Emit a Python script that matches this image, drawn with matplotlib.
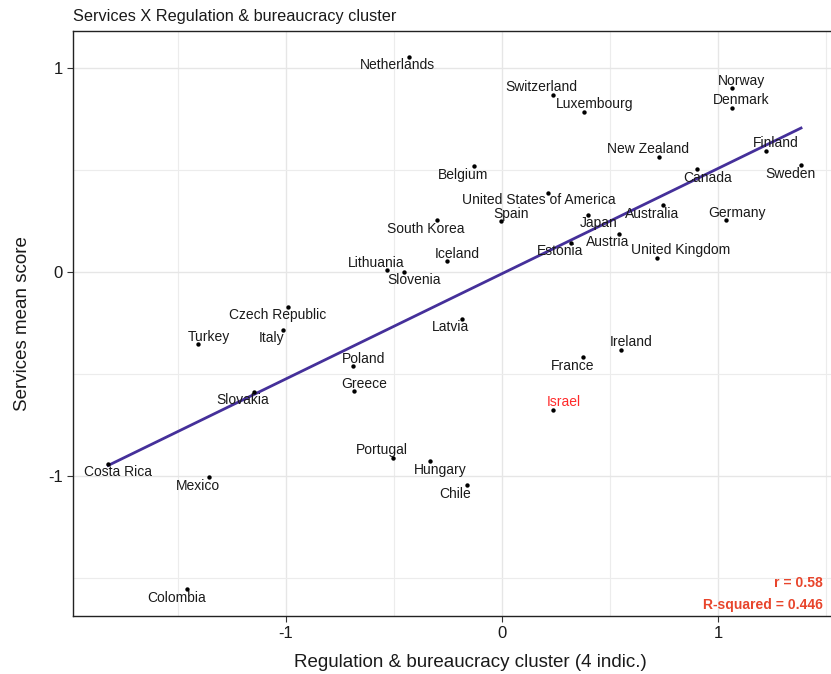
import numpy as np
import matplotlib.pyplot as plt

plt.rcParams['font.family'] = ['Liberation Sans', 'DejaVu Sans']
plt.rcParams['axes.unicode_minus'] = False

# country scores
countries = ['Netherlands', 'Switzerland', 'Luxembourg', 'Norway', 'Denmark',
             'New Zealand', 'Canada', 'Finland', 'Sweden', 'Australia',
             'Germany', 'Japan', 'Austria', 'Estonia', 'United Kingdom',
             'United States of America', 'Spain', 'Belgium', 'South Korea',
             'Iceland', 'Lithuania', 'Slovenia', 'Czech Republic', 'Italy',
             'Turkey', 'Slovakia', 'Costa Rica', 'Mexico', 'Latvia', 'Poland',
             'Greece', 'France', 'Ireland', 'Israel', 'Portugal', 'Hungary',
             'Chile', 'Colombia']
regulation = [-0.432, 0.235, 0.380, 1.063, 1.063,
              0.725, 0.904, 1.221, 1.384, 0.745,
              1.039, 0.400, 0.543, 0.318, 0.716,
              0.211, -0.003, -0.131, -0.302,
              -0.255, -0.532, -0.455, -0.989, -1.015,
              -1.409, -1.148, -1.823, -1.355, -0.187, -0.688,
              -0.684, 0.377, 0.552, 0.235, -0.505, -0.332,
              -0.164, -1.458]
services = [1.055, 0.868, 0.783, 0.903, 0.802,
            0.562, 0.503, 0.593, 0.523, 0.327,
            0.255, 0.279, 0.186, 0.144, 0.070,
            0.386, 0.252, 0.521, 0.256,
            0.055, 0.010, -0.002, -0.172, -0.284,
            -0.353, -0.590, -0.941, -1.006, -0.230, -0.459,
            -0.582, -0.418, -0.384, -0.678, -0.913, -0.925,
            -1.046, -1.554]
stats_text = ['r = 0.58', 'R-squared = 0.446']
highlight = 'Israel'

# label offsets from each point, in pixels (x right, y up)
label_offsets = [(-11, -8), (-11, 8), (10, 8), (10, 7), (10, 8),
                 (-11, 8), (10, -9), (10, 8), (-11, -9), (-11, -9),
                 (11, 7), (10, -8), (-12, -8), (-11, -8), (24, 8),
                 (-9, -7), (10, 7), (-11, -9), (-11, -9),
                 (10, 7), (-11, 7), (10, -8), (-11, -8), (-11, -8),
                 (11, 7), (-11, -8), (10, -8), (-11, -9), (-11, -8), (10, 7),
                 (10, 7), (-11, -9), (10, 8), (11, 8), (-11, 8), (10, -9),
                 (-11, -9), (-10, -9)]

x = np.array(regulation)
y = np.array(services)

fig = plt.figure(figsize=(8.31, 6.74), dpi=100)
ax = fig.add_axes([73 / 831, 58 / 674, 795 / 831, 585.5 / 674])

# grid at half units, like ggplot's major + minor lines
ax.set_xticks([-1, 0, 1])
ax.set_yticks([-1, 0, 1])
ax.set_xticks([-1.5, -0.5, 0.5, 1.5], minor=True)
ax.set_yticks([-1.5, -0.5, 0.5], minor=True)
ax.grid(True, which='major', color='#e6e6e6', linewidth=1.0)
ax.grid(True, which='minor', color='#ececec', linewidth=0.8)
ax.set_axisbelow(True)
ax.tick_params(which='minor', length=0)
ax.tick_params(which='major', length=4, width=0.8, color='#333333',
               labelsize=12, labelcolor='#1a1a1a')

# linear fit over the data range
slope, intercept = np.polyfit(x, y, 1)
xs = np.array([x.min(), x.max()])
ax.plot(xs, slope * xs + intercept, color='#45309a', linewidth=2.0, zorder=2)

ax.scatter(x, y, s=10, color='black', zorder=3, linewidths=0)

for name, xi, yi, (dx, dy) in zip(countries, x, y, label_offsets):
    color = '#ff2a2a' if name == highlight else '#1a1a1a'
    ax.annotate(name, (xi, yi), xytext=(dx, dy), textcoords='offset pixels',
                ha='center', va='center', fontsize=10, color=color, zorder=4)

ax.text(1.486, -1.525, stats_text[0], ha='right', va='center',
        fontsize=10, fontweight='bold', color='#e8452c')
ax.text(1.486, -1.632, stats_text[1], ha='right', va='center',
        fontsize=10, fontweight='bold', color='#e8452c')

ax.set_xlim(-1.986, 1.694)
ax.set_ylim(-1.686, 1.184)

for side in ['left', 'bottom', 'top']:
    ax.spines[side].set_color('#222222')
    ax.spines[side].set_linewidth(1.0)
ax.spines['right'].set_visible(False)

ax.set_xlabel('Regulation & bureaucracy cluster (4 indic.)', fontsize=13.5,
              labelpad=9, color='#1a1a1a')
ax.set_ylabel('Services mean score', fontsize=13.5, labelpad=12,
              color='#1a1a1a')
ax.set_title('Services X Regulation & bureaucracy cluster', loc='left',
             fontsize=11.7, pad=7, color='#1a1a1a')

fig.savefig('out.png', dpi=100)
